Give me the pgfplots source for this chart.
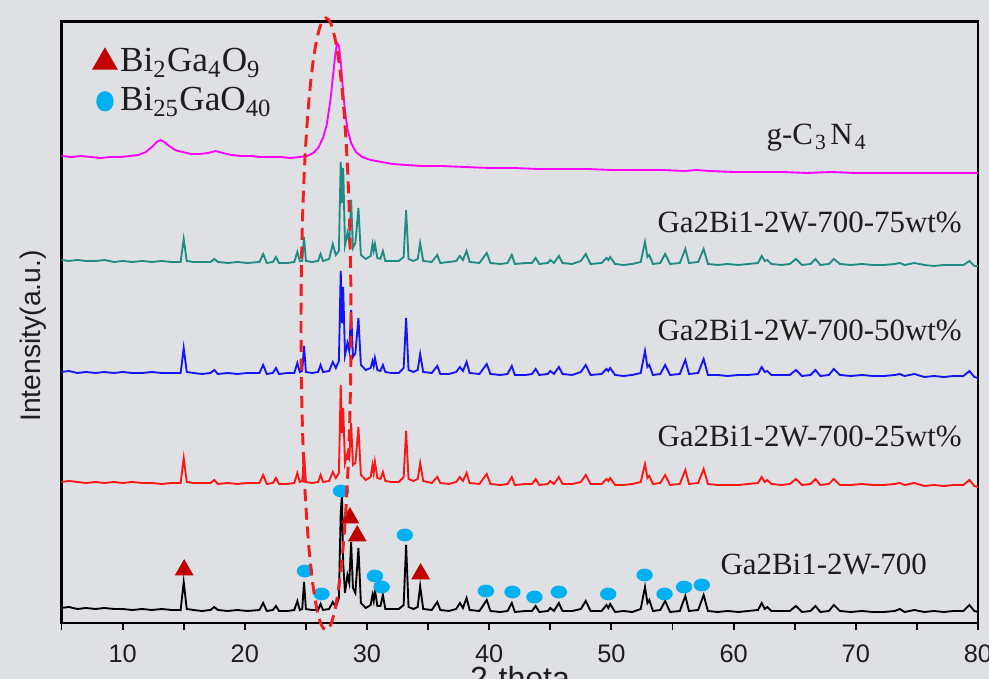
\documentclass[border=0pt]{standalone}
\usepackage{pgfplots}
\usepackage{pgfplotstable}
\pgfplotsset{compat=1.18}
\usepackage{fontspec}
\setmainfont{Liberation Serif}
\newfontfamily\arial{Liberation Sans}
\definecolor{bg}{RGB}{223,224,227}
\definecolor{tri}{RGB}{192,0,0}
\definecolor{dot}{RGB}{0,176,240}
\definecolor{teal2}{RGB}{30,140,130}
\definecolor{mag}{RGB}{255,0,255}
\definecolor{blu}{RGB}{20,20,245}
\definecolor{rd}{RGB}{255,20,20}
\definecolor{txt}{RGB}{30,30,30}

\pgfplotstableread{
x k r b t
5.0 15 141 251 363
5.6 16 142 252 362
6.3 14 141 250 363
7.0 15 140 251 362
7.8 14 141 250 362
8.5 15 140 251 363
9.3 14 141 250 361
10.0 14 140 251 362
10.8 13 141 250 361
11.6 14 140 250 362
12.4 13 140 251 361
13.2 14 139 250 362
14.0 13 140 250 361
14.75 13 140 250 361
15.0 41 165 275 384
15.25 14 141 251 362
15.8 13 140 250 361
16.5 12 140 249 361
17.2 13 140 250 361
17.5 16 143 253 364
17.8 13 139 249 361
18.6 12 140 250 360
19.4 13 139 249 361
20.2 12 140 250 360
21.2 13 140 250 361
21.5 20 148 258 369
21.8 12 139 249 360
22.3 13 140 250 361
22.55 17 145 255 366
22.8 12 139 249 360
23.5 12 139 250 360
24.05 13 140 250 361
24.3 22 150 260 371
24.5 13 141 251 362
24.7 14 142 252 362
24.85 41 169 277 386
25.0 14 141 251 362
25.5 13 140 250 361
26.0 13 141 251 362
26.2 19 148 258 369
26.4 13 141 251 362
26.9 14 142 252 364
27.2 21 151 261 379
27.45 16 145 255 368
27.7 25 150 262 372
27.85 110 238 352 461
27.95 128 190 300 420
28.05 60 215 336 455
28.2 30 160 268 378
28.4 48 170 280 390
28.55 40 165 272 380
28.7 81 200 313 423
28.85 35 158 266 375
29.05 30 160 270 380
29.3 75 196 305 415
29.5 20 148 258 368
29.9 15 143 253 364
30.3 18 146 255 367
30.45 28 158 262 379
30.55 22 150 257 372
30.65 33 161 265 379
30.85 17 145 253 365
31.1 17 144 252 364
31.3 28 151 258 372
31.5 14 142 251 362
32.0 14 141 250 362
32.6 14 141 250 362
33.0 18 146 255 366
33.2 78 192 305 413
33.4 16 144 253 364
33.8 14 142 251 362
34.15 16 144 253 364
34.35 37 160 269 380
34.6 14 142 251 362
35.3 13 140 250 361
35.75 21 146 257 368
36.0 13 140 249 360
36.7 12 139 249 361
37.3 14 141 251 362
37.6 20 146 256 367
37.85 15 142 252 363
38.15 25 150 261 372
38.4 13 140 250 361
39.2 12 139 249 360
39.8 23 149 259 370
40.1 12 139 249 360
40.9 11 138 248 359
41.5 12 139 249 360
41.85 20 146 257 368
42.1 11 138 248 359
43.0 12 139 248 360
43.5 12 139 249 360
43.8 17 144 254 365
44.1 11 138 248 359
44.8 12 139 249 360
45.0 15 142 252 363
45.3 12 139 249 360
45.7 20 146 256 367
46.0 12 139 249 360
46.8 12 139 248 359
47.5 14 141 251 362
47.9 22 148 258 369
48.3 12 139 248 359
49.2 12 139 249 360
49.6 18 144 254 365
49.75 15 142 252 363
49.9 19 145 255 366
50.3 11 138 248 359
51.0 12 138 247 358
51.7 11 139 248 359
52.4 14 141 250 361
52.75 36 159 272 381
52.95 20 145 256 366
53.1 23 147 258 368
53.4 12 139 248 359
54.0 13 140 249 360
54.4 22 148 258 369
54.8 11 138 248 359
55.6 12 139 249 360
56.05 27 153 263 374
56.35 12 139 249 360
57.1 13 140 250 361
57.55 28 154 264 374
57.9 12 139 248 359
58.7 11 138 248 358
59.5 12 138 247 359
60.4 11 138 248 358
61.2 12 139 248 359
62.0 13 140 249 360
62.3 20 146 256 367
62.55 14 141 251 362
62.75 16 143 252 363
63.1 12 139 248 359
63.9 12 138 248 358
64.6 12 139 248 359
65.1 17 144 253 364
65.6 11 138 247 358
66.3 12 139 248 359
66.7 17 144 253 364
67.1 11 138 247 358
67.8 12 139 248 359
68.2 18 144 254 364
68.7 12 138 248 359
69.6 11 138 247 358
70.5 12 139 248 359
71.4 11 138 247 358
72.3 11 138 247 358
73.2 12 139 248 359
73.6 14 140 249 360
74.0 11 138 247 358
74.8 13 140 249 360
75.6 11 137 246 358
76.4 12 138 247 357
77.2 11 137 246 358
78.0 12 138 247 358
78.8 12 138 247 358
79.3 18 143 252 362
79.7 12 137 246 357
80.0 11 136 245 357
}\xrd

\pgfplotstableread{
x y
5.0 467
5.8 466
6.6 467
7.4 466
8.2 465
9.0 466
9.8 466
10.6 467
11.3 468
11.9 471
12.4 476
12.8 481
13.1 483
13.4 481
13.8 477
14.3 473
14.9 471
15.6 469
16.3 469
17.0 470
17.6 472
18.2 470
18.9 468
19.7 467
20.5 467
21.3 466
22.1 466
22.9 466
23.7 465
24.5 466
25.1 467
25.6 470
26.0 475
26.4 485
26.7 498
27.0 522
27.2 545
27.4 568
27.55 580
27.7 577
27.85 562
28.0 538
28.2 512
28.4 494
28.7 480
29.1 471
29.6 466
30.3 463
31.2 461
32.1 459
33.2 458
34.5 457
36.0 457
38.0 456
40.0 455
42.0 455
44.0 454
46.0 454
48.0 454
50.0 453
52.0 453
54.0 453
56.0 452
57.0 453
58.0 452
60.0 451
62.0 451
64.0 451
66.0 450
68.0 451
70.0 450
72.0 450
74.0 450
76.0 450
78.0 450
80.0 450
}\gcn

\begin{document}
\begin{tikzpicture}
\path[use as bounding box, fill=bg] (0,0) rectangle (370.875pt,254.625pt);
\clip (0,0) rectangle (370.875pt,254.625pt);
\begin{axis}[
  at={(23.0625pt,21pt)}, anchor=south west,
  scale only axis, width=343.6875pt, height=225.5625pt,
  xmin=5, xmax=80, ymin=0, ymax=601.5,
  clip=false,
  axis line style={line width=0.8pt, black},
  xtick={5,10,...,80},
  xticklabels={,10,,20,,30,,40,,50,,60,,70,,80},
  ytick=\empty,
  tick align=outside, xtick pos=bottom,
  major tick length=2.8pt,
  tick style={line width=0.7pt, black},
  xticklabel style={font=\arial\fontsize{9.5}{11}\selectfont, text=txt, yshift=-1.8pt},
  legend style={at={(rel axis cs:0.025,0.97)}, anchor=north west, draw=none, fill=none,
    font=\fontsize{13.2}{14}\selectfont, text=txt, row sep=2pt,
    nodes={inner sep=1.2pt}},
  legend cell align=left,
  legend image code/.code={\draw[#1] plot coordinates {(0.17cm,0cm)};},
]
\addplot[black, line width=0.7pt, forget plot] table[x=x, y=k] {\xrd};
\addplot[rd, line width=0.7pt, forget plot] table[x=x, y=r] {\xrd};
\addplot[blu, line width=0.7pt, forget plot] table[x=x, y=b] {\xrd};
\addplot[teal2, line width=0.7pt, forget plot] table[x=x, y=t] {\xrd};
\addplot[mag, line width=0.7pt, forget plot] table[x=x, y=y] {\gcn};

\addplot[only marks, mark=triangle*, mark size=3.7pt, color=tri,
  mark options={draw=tri, fill=tri},
  legend image post style={mark size=5.2pt}]
  coordinates {(15.04,53) (28.6,105) (29.2,87) (34.39,49)};
\addlegendentry{Bi\textsubscript{2}Ga\textsubscript{4}O\textsubscript{9}}
\addplot[only marks, mark=*, mark size=2.2pt, color=dot,
  mark options={xscale=1.3, draw=none, fill=dot},
  legend image post style={mark size=3.6pt, mark options={xscale=0.85, draw=none, fill=dot}}]
  coordinates {(24.92,52) (26.28,29) (27.87,132) (30.65,47) (31.2,36) (33.1,88)
    (39.73,32) (41.9,31) (43.7,26) (45.7,31) (49.74,29) (52.72,48)
    (54.35,29) (55.95,36) (57.4,38)};
\addlegendentry{Bi\textsubscript{25}GaO\textsubscript{40}}
\end{axis}

% dashed ellipse annotation
\draw[color={rgb,255:red,240;green,30;blue,30}, line width=1.1pt, dash pattern=on 4.5pt off 2.5pt]
  (122.25pt,133.125pt) ellipse [x radius=9.375pt, y radius=114.75pt];

% series labels
\begin{scope}[every node/.style={font=\fontsize{11.6}{13}\selectfont, text=txt, inner sep=0pt}]
\node[anchor=base west] at (287.25pt,200.25pt) {g-C\kern0.8pt\textsubscript{3}\kern1.2pt N\kern0.8pt\textsubscript{4}};
\node[anchor=base west] at (246.4pt,167.25pt) {Ga2Bi1-2W-700-75wt\%};
\node[anchor=base west] at (246.4pt,127.1pt) {Ga2Bi1-2W-700-50wt\%};
\node[anchor=base west] at (246.4pt,87pt) {Ga2Bi1-2W-700-25wt\%};
\node[anchor=base west] at (270pt,39pt) {Ga2Bi1-2W-700};
\end{scope}

\node[rotate=90, font=\arial\fontsize{10.6}{12}\selectfont, text=txt] at (12.4pt,128.6pt) {Intensity(a.u.)};
\node[anchor=base, font=\arial\fontsize{12}{14}\selectfont, text=txt] at (195pt,-3.8pt) {2-theta};
\end{tikzpicture}
\end{document}
